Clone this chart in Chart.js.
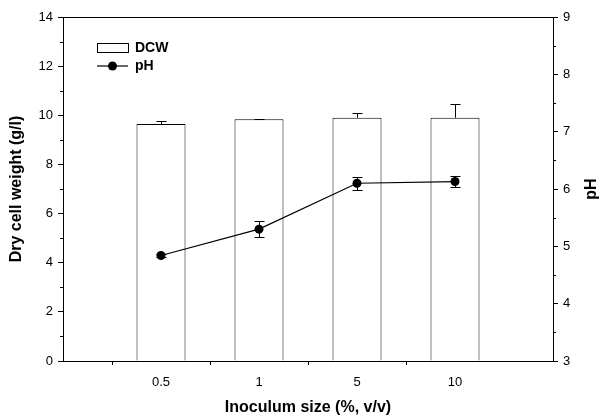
<!DOCTYPE html>
<html>
<head>
<meta charset="utf-8">
<script src="https://cdn.jsdelivr.net/npm/chart.js@4.4.1/dist/chart.umd.min.js"></script>
<style>
  body { margin: 0; background: #fff; }
  #wrap { width: 601px; height: 417px; }
</style>
</head>
<body>
<div id="wrap"><canvas id="dcwChart" width="601" height="417"></canvas></div>
<script>
// inoculum size categories (empty slots at both ends give the side margins)
const inoculum = ['', '0.5', '1', '5', '10', ''];
const dcw = [null, 9.65, 9.84, 9.90, 9.90, null];
const dcwErr = [null, 0.11, 0.02, 0.18, 0.56, null];
const ph = [null, 4.84, 5.30, 6.10, 6.13, null];
const phErr = [null, 0.03, 0.14, 0.11, 0.09, null];

const FONT = "'Liberation Sans', Arial, sans-serif";

function line(ctx, x1, y1, x2, y2) {
    ctx.beginPath(); ctx.moveTo(x1, y1); ctx.lineTo(x2, y2); ctx.stroke();
}

// error bars, top border, minor ticks, legend and the pH title
const extras = {
    id: 'extras',
    afterDatasetsDraw(chart) {
        const ctx = chart.ctx;
        const x = chart.scales.x, yL = chart.scales.y, yR = chart.scales.y2;
        const area = chart.chartArea;
        ctx.save();
        ctx.strokeStyle = '#000';
        ctx.lineWidth = 1;

        dcw.forEach((v, i) => {
            if (v == null) return;
            const px = Math.round(x.getPixelForValue(i)) + 0.5;
            const base = yL.getPixelForValue(v);
            const top = Math.round(yL.getPixelForValue(v + dcwErr[i])) + 0.5;
            line(ctx, px, base, px, top);
            line(ctx, px - 5, top, px + 5, top);
        });
        ph.forEach((v, i) => {
            if (v == null) return;
            const px = Math.round(x.getPixelForValue(i)) + 0.5;
            const lo = Math.round(yR.getPixelForValue(v - phErr[i])) + 0.5;
            const hi = Math.round(yR.getPixelForValue(v + phErr[i])) + 0.5;
            line(ctx, px, lo, px, hi);
            line(ctx, px - 5, lo, px + 5, lo);
            line(ctx, px - 5, hi, px + 5, hi);
        });

        // frame top
        line(ctx, area.left, Math.round(area.top) + 0.5, area.right, Math.round(area.top) + 0.5);

        // minor ticks
        for (let v = 1; v < 14; v += 2) {
            const py = Math.round(yL.getPixelForValue(v)) + 0.5;
            line(ctx, area.left - 3, py, area.left, py);
        }
        for (let v = 3.5; v < 9; v += 1) {
            const py = Math.round(yR.getPixelForValue(v)) + 0.5;
            line(ctx, area.right, py, area.right + 3, py);
        }

        // legend
        const lx = Math.round(area.left) + 34, ly = Math.round(area.top) + 26;
        ctx.fillStyle = '#fff';
        ctx.fillRect(lx, ly, 31, 9);
        ctx.strokeStyle = '#000';
        ctx.strokeRect(lx + 0.5, ly + 0.5, 31, 9);
        ctx.lineWidth = 1.2;
        line(ctx, lx, ly + 23, lx + 31, ly + 23);
        ctx.fillStyle = '#000';
        ctx.beginPath(); ctx.arc(lx + 15.5, ly + 23, 4.5, 0, Math.PI * 2); ctx.fill();
        ctx.font = 'bold 14px ' + FONT;
        ctx.textBaseline = 'middle';
        ctx.textAlign = 'left';
        ctx.fillText(chart.data.datasets[0].label, lx + 38, ly + 5);
        ctx.fillText(chart.data.datasets[1].label, lx + 38, ly + 23);

        // right axis title, reading bottom to top like the left one
        ctx.save();
        ctx.translate(592, (area.top + area.bottom) / 2);
        ctx.rotate(-Math.PI / 2);
        ctx.textAlign = 'center';
        ctx.font = 'bold 16px ' + FONT;
        ctx.fillText('pH', 0, 0);
        ctx.restore();

        ctx.restore();
    }
};

function initChart() {
    const ctx = document.getElementById('dcwChart').getContext('2d');
    new Chart(ctx, {
        type: 'bar',
        data: {
            labels: inoculum,
            datasets: [
                { type: 'bar', label: 'DCW', data: dcw, yAxisID: 'y', order: 2,
                  backgroundColor: '#fff', borderColor: '#000', borderWidth: 1,
                  barPercentage: 0.5, categoryPercentage: 1 },
                { type: 'line', label: 'pH', data: ph, yAxisID: 'y2', order: 1,
                  borderColor: '#000', borderWidth: 1.2, backgroundColor: '#000',
                  pointRadius: 4.5, pointBackgroundColor: '#000', pointBorderWidth: 0, tension: 0 }
            ]
        },
        options: {
            responsive: false,
            animation: false,
            layout: { padding: { top: 17, left: 0, right: 0, bottom: 0 } },
            plugins: { legend: { display: false }, tooltip: { enabled: false } },
            scales: {
                x: {
                    offset: false,
                    grid: { display: true, drawOnChartArea: false, tickLength: 4,
                            tickColor: c => (c.index === 0 || c.index === inoculum.length - 1) ? 'rgba(0,0,0,0)' : '#000' },
                    border: { display: true, color: '#000', width: 1 },
                    ticks: { color: '#000', font: { family: FONT, size: 13 }, padding: 10, maxRotation: 0, autoSkip: false },
                    title: { display: true, text: 'Inoculum size (%, v/v)', color: '#000',
                             font: { family: FONT, size: 16, weight: 'bold' }, padding: { top: 0, bottom: 0 } },
                    afterFit: s => { s.height = 56; }
                },
                y: {
                    position: 'left', min: 0, max: 14,
                    grid: { display: true, drawOnChartArea: false, tickLength: 5, tickColor: '#000' },
                    border: { display: true, color: '#000', width: 1 },
                    ticks: { stepSize: 2, color: '#000', font: { family: FONT, size: 13 }, padding: 5 },
                    title: { display: true, text: 'Dry cell weight (g/l)', color: '#000',
                             font: { family: FONT, size: 16, weight: 'bold' }, padding: { top: 7, bottom: 0 } },
                    afterFit: s => { s.width = 63; }
                },
                y2: {
                    position: 'right', min: 3, max: 9,
                    grid: { display: true, drawOnChartArea: false, tickLength: 5, tickColor: '#000' },
                    border: { display: true, color: '#000', width: 1 },
                    ticks: { stepSize: 1, color: '#000', font: { family: FONT, size: 13 }, padding: 5 },
                    afterFit: s => { s.width = 48; }
                }
            }
        },
        plugins: [extras]
    });
}

window.onload = initChart;
</script>
</body>
</html>
